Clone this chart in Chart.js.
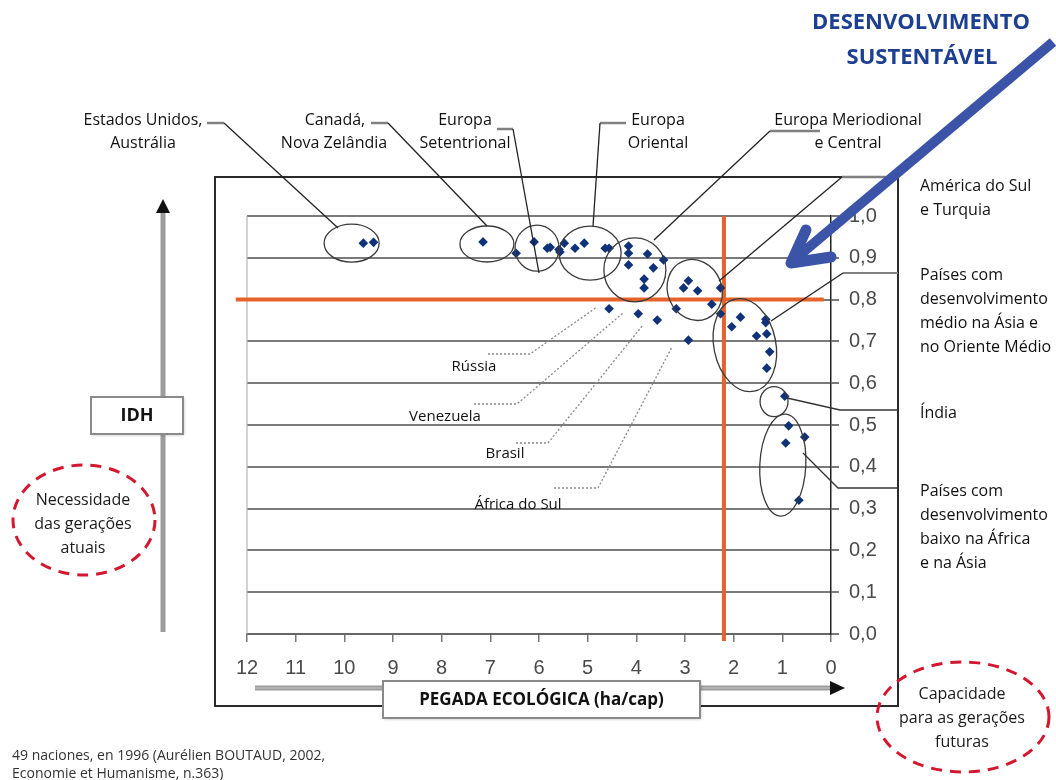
<!DOCTYPE html>
<html>
<head>
<meta charset="utf-8">
<script src="https://cdn.jsdelivr.net/npm/chart.js@4.4.1/dist/chart.umd.min.js"></script>
<style>
html,body{margin:0;padding:0;background:#fff;}
canvas{display:block;}
</style>
</head>
<body>
<canvas id="c" width="1056" height="780"></canvas>
<script>
// ---- DATA ----
// Pegada ecológica (ha/cap) and IDH for each nation, grouped by region
const usAusFootprint   = [9.61, 9.40];
const usAusHdi         = [0.935, 0.937];
const canNzFootprint   = [7.15, 6.47];
const canNzHdi         = [0.938, 0.911];
const northEuFootprint = [6.10, 5.83, 5.77, 5.59, 5.57, 5.48];
const northEuHdi       = [0.938, 0.923, 0.925, 0.920, 0.914, 0.935];
const eastEuFootprint  = [5.26, 5.07, 4.64, 4.56];
const eastEuHdi        = [0.923, 0.935, 0.923, 0.923];
const southEuFootprint = [4.16, 4.16, 4.16, 3.77, 3.44, 3.65, 3.84, 3.84];
const southEuHdi       = [0.928, 0.911, 0.883, 0.909, 0.895, 0.876, 0.849, 0.828];
const latAmFootprint   = [3.03, 2.93, 2.74, 2.27, 2.45, 3.18, 2.27];
const latAmHdi         = [0.828, 0.845, 0.821, 0.828, 0.789, 0.778, 0.766];
const namedFootprint   = [4.56, 3.96, 3.57, 2.93];   // Rússia, Venezuela, Brasil, África do Sul
const namedHdi         = [0.778, 0.766, 0.751, 0.703];
const asiaFootprint    = [2.04, 1.86, 1.34, 1.34, 1.53, 1.32, 1.26, 1.32];
const asiaHdi          = [0.735, 0.758, 0.753, 0.745, 0.713, 0.718, 0.675, 0.636];
const indiaFootprint   = [0.95];
const indiaHdi         = [0.569];
const lowFootprint     = [0.87, 0.54, 0.93, 0.66];
const lowHdi           = [0.498, 0.471, 0.457, 0.320];

const xTickValues = [12, 11, 10, 9, 8, 7, 6, 5, 4, 3, 2, 1, 0];
const yTickValues = [0, 0.1, 0.2, 0.3, 0.4, 0.5, 0.6, 0.7, 0.8, 0.9, 1.0];
const thresholdFootprint = 2.2;
const thresholdHdi = 0.8;

const allFootprint = [].concat(usAusFootprint, canNzFootprint, northEuFootprint, eastEuFootprint,
  southEuFootprint, latAmFootprint, namedFootprint, asiaFootprint, indiaFootprint, lowFootprint);
const allHdi = [].concat(usAusHdi, canNzHdi, northEuHdi, eastEuHdi,
  southEuHdi, latAmHdi, namedHdi, asiaHdi, indiaHdi, lowHdi);
const points = allFootprint.map((x, i) => ({ x: x, y: allHdi[i] }));

// ---- annotation geometry (group ellipses anchored in data units) ----
const groupEllipses = [
  { x: 9.85, y: 0.935, rx: 27.5, ry: 19, rot: 0 },
  { x: 7.07, y: 0.933, rx: 27, ry: 18, rot: 0 },
  { x: 6.04, y: 0.923, rx: 22, ry: 23, rot: 0 },
  { x: 4.95, y: 0.911, rx: 31, ry: 27, rot: 0 },
  { x: 4.03, y: 0.871, rx: 31, ry: 32, rot: 0 },
  { x: 2.80, y: 0.823, rx: 27, ry: 31, rot: -0.4 },
  { x: 1.77, y: 0.691, rx: 31, ry: 47, rot: -0.2 },
  { x: 1.17, y: 0.556, rx: 14, ry: 15, rot: 0 },
  { x: 0.99, y: 0.404, rx: 23, ry: 51, rot: 0.05 }
];

const SANS = '"Open Sans", "Noto Sans", sans-serif';
const ARIAL = '"Liberation Sans", Arial, sans-serif';

function txt(ctx, s, x, y, align, font, color) {
  ctx.save();
  ctx.font = font;
  ctx.fillStyle = color || '#111';
  ctx.textAlign = align || 'left';
  ctx.textBaseline = 'middle';
  ctx.fillText(s, x, y);
  ctx.restore();
}
function line(ctx, pts, color, w, dash) {
  ctx.save();
  ctx.strokeStyle = color; ctx.lineWidth = w;
  if (dash) ctx.setLineDash(dash);
  ctx.beginPath();
  ctx.moveTo(pts[0][0], pts[0][1]);
  for (let i = 1; i < pts.length; i++) ctx.lineTo(pts[i][0], pts[i][1]);
  ctx.stroke();
  ctx.restore();
}
function ellipse(ctx, cx, cy, rx, ry, rot, color, w, dash) {
  ctx.save();
  ctx.strokeStyle = color; ctx.lineWidth = w;
  if (dash) ctx.setLineDash(dash);
  ctx.beginPath();
  ctx.ellipse(cx, cy, rx, ry, rot, 0, Math.PI * 2);
  ctx.stroke();
  ctx.restore();
}
function box(ctx, x, y, w, h) {
  ctx.save();
  ctx.shadowColor = 'rgba(0,0,0,0.25)';
  ctx.shadowBlur = 3; ctx.shadowOffsetX = 1; ctx.shadowOffsetY = 1;
  ctx.fillStyle = '#fff';
  ctx.fillRect(x, y, w, h);
  ctx.restore();
  ctx.save();
  ctx.strokeStyle = '#8a8a8a'; ctx.lineWidth = 2;
  ctx.strokeRect(x, y, w, h);
  ctx.restore();
}

const decor = {
  id: 'decor',
  beforeDatasetsDraw(chart) {
    const ctx = chart.ctx, xs = chart.scales.x, ys = chart.scales.y;
    // plot left border
    line(ctx, [[chart.chartArea.left, ys.getPixelForValue(1)], [chart.chartArea.left, ys.getPixelForValue(0)]], '#b5b5b5', 1.2);
    // orange threshold lines
    const oy = ys.getPixelForValue(thresholdHdi);
    line(ctx, [[xs.getPixelForValue(12.23), oy], [xs.getPixelForValue(0.15), oy]], '#e5622a', 4);
    const ox = xs.getPixelForValue(thresholdFootprint);
    line(ctx, [[ox, ys.getPixelForValue(1)], [ox, ys.getPixelForValue(-0.017)]], '#e5622a', 4);
  },
  afterDatasetsDraw(chart) {
    const ctx = chart.ctx, xs = chart.scales.x, ys = chart.scales.y;
    groupEllipses.forEach(e => {
      ellipse(ctx, xs.getPixelForValue(e.x), ys.getPixelForValue(e.y), e.rx, e.ry, e.rot, '#3a3a3a', 1.3);
    });
  },
  afterDraw(chart) {
    const ctx = chart.ctx;
    // outer frame
    ctx.save();
    ctx.strokeStyle = '#2a2a2a'; ctx.lineWidth = 2;
    ctx.strokeRect(215, 177, 683, 529);
    ctx.restore();

    // x direction arrow (gray) with black head
    line(ctx, [[255, 688], [832, 688]], '#9c9c9c', 5);
    line(ctx, [[255, 688], [832, 688]], '#c8c8c8', 1);
    ctx.save(); ctx.fillStyle = '#111';
    ctx.beginPath(); ctx.moveTo(845, 688); ctx.lineTo(830, 681); ctx.lineTo(830, 695); ctx.closePath(); ctx.fill();
    ctx.restore();
    // y direction arrow
    line(ctx, [[163, 632], [163, 210]], '#9c9c9c', 5);
    ctx.save(); ctx.fillStyle = '#111';
    ctx.beginPath(); ctx.moveTo(163, 199); ctx.lineTo(156, 213); ctx.lineTo(170, 213); ctx.closePath(); ctx.fill();
    ctx.restore();

    // axis title boxes
    box(ctx, 383, 681, 317, 37);
    txt(ctx, 'PEGADA ECOLÓGICA (ha/cap)', 541.5, 700, 'center', 'bold 17px ' + SANS, '#111');
    box(ctx, 91, 397, 92, 37);
    txt(ctx, 'IDH', 137, 416, 'center', 'bold 18px ' + SANS, '#111');

    // red dashed ellipses
    const F3 = '16px ' + SANS;
    ellipse(ctx, 84, 520, 71, 55, 0, '#d3172e', 3, [11, 8]);
    txt(ctx, 'Necessidade', 83, 500, 'center', F3, '#1a1a1a');
    txt(ctx, 'das gerações', 83, 524, 'center', F3, '#1a1a1a');
    txt(ctx, 'atuais', 83, 548, 'center', F3, '#1a1a1a');
    ellipse(ctx, 963, 717, 86, 55, 0, '#d3172e', 3, [11, 8]);
    txt(ctx, 'Capacidade', 962, 694, 'center', F3, '#1a1a1a');
    txt(ctx, 'para as gerações', 962, 718, 'center', F3, '#1a1a1a');
    txt(ctx, 'futuras', 962, 742, 'center', F3, '#1a1a1a');

    // top labels
    const F = '16px ' + SANS;
    txt(ctx, 'Estados Unidos,', 143, 120, 'center', F);
    txt(ctx, 'Austrália', 143, 143, 'center', F);
    txt(ctx, 'Canadá,', 335, 120, 'center', F);
    txt(ctx, 'Nova Zelândia', 334, 143, 'center', F);
    txt(ctx, 'Europa', 465, 120, 'center', F);
    txt(ctx, 'Setentrional', 465, 143, 'center', F);
    txt(ctx, 'Europa', 658, 120, 'center', F);
    txt(ctx, 'Oriental', 658, 143, 'center', F);
    txt(ctx, 'Europa Meriodional', 848, 120, 'center', F);
    txt(ctx, 'e Central', 848, 143, 'center', F);

    // top leader lines
    const G = '#808080', K = '#222';
    line(ctx, [[207, 123], [224, 123]], G, 2.5); line(ctx, [[224, 123], [338, 228]], K, 1.3);
    line(ctx, [[371, 123], [388, 123]], G, 2.5); line(ctx, [[388, 123], [487, 226]], K, 1.3);
    line(ctx, [[497, 129], [513, 129]], G, 2.5); line(ctx, [[513, 129], [539, 273]], K, 1.3);
    line(ctx, [[600, 123], [626, 123]], G, 2.5); line(ctx, [[600, 123], [593, 226]], K, 1.3);
    line(ctx, [[770, 131], [820, 131]], G, 2.5); line(ctx, [[770, 131], [654, 240]], K, 1.3);

    // right leader lines
    line(ctx, [[842, 177], [898, 177]], G, 2.5); line(ctx, [[842, 177], [719, 281]], K, 1.3);
    line(ctx, [[843, 273], [898, 273]], G, 2); line(ctx, [[843, 273], [771, 321]], K, 1.3);
    line(ctx, [[787, 398], [840, 410], [898, 410]], '#333', 1.3);
    line(ctx, [[803, 453], [838, 488], [898, 488]], '#333', 1.3);

    // right labels
    txt(ctx, 'América do Sul', 920, 186, 'left', F);
    txt(ctx, 'e Turquia', 920, 210, 'left', F);
    txt(ctx, 'Países com', 920, 275, 'left', F);
    txt(ctx, 'desenvolvimento', 920, 299, 'left', F);
    txt(ctx, 'médio na Ásia e', 920, 323, 'left', F);
    txt(ctx, 'no Oriente Médio', 920, 347, 'left', F);
    txt(ctx, 'Índia', 920, 413, 'left', F);
    txt(ctx, 'Países com', 920, 491, 'left', F);
    txt(ctx, 'desenvolvimento', 920, 515, 'left', F);
    txt(ctx, 'baixo na África', 920, 539, 'left', F);
    txt(ctx, 'e na Ásia', 920, 563, 'left', F);

    // named countries with dotted leaders
    const D = [2, 2];
    const F2 = '15px ' + SANS;
    line(ctx, [[488, 354], [530, 354], [597, 307]], '#888', 1.3, D);
    txt(ctx, 'Rússia', 474, 367, 'center', F2);
    line(ctx, [[474, 404], [517, 404], [623, 313]], '#888', 1.3, D);
    txt(ctx, 'Venezuela', 445, 417, 'center', F2);
    line(ctx, [[516, 443], [548, 443], [643, 325]], '#888', 1.3, D);
    txt(ctx, 'Brasil', 505, 454, 'center', F2);
    line(ctx, [[554, 488], [598, 488], [672, 347]], '#888', 1.3, D);
    txt(ctx, 'África do Sul', 518, 505, 'center', F2);

    // sustainable development arrow
    line(ctx, [[1053, 42], [795, 259]], '#3b54a8', 10);
    ctx.save();
    ctx.strokeStyle = '#3b54a8'; ctx.lineWidth = 11; ctx.lineJoin = 'round'; ctx.lineCap = 'round';
    ctx.beginPath(); ctx.moveTo(806, 230); ctx.lineTo(791, 263); ctx.lineTo(831, 257); ctx.stroke();
    ctx.restore();
    txt(ctx, 'DESENVOLVIMENTO', 921, 23, 'center', 'bold 22px ' + SANS, '#1d3f92');
    txt(ctx, 'SUSTENTÁVEL', 922, 58, 'center', 'bold 22px ' + SANS, '#1d3f92');

    // source note
    txt(ctx, '49 naciones, en 1996 (Aurélien BOUTAUD, 2002,', 12, 756, 'left', '14px ' + SANS, '#333');
    txt(ctx, 'Economie et Humanisme, n.363)', 12, 774, 'left', '14px ' + SANS, '#333');
  }
};

new Chart(document.getElementById('c'), {
  type: 'scatter',
  data: {
    datasets: [{
      data: points,
      pointStyle: 'rectRot',
      pointRadius: 4.8,
      backgroundColor: '#0f3278',
      borderColor: '#0f3278',
      borderWidth: 0
    }]
  },
  options: {
    responsive: false,
    animation: false,
    events: [],
    layout: { padding: { left: 247, top: 216, right: 0, bottom: 0 } },
    plugins: { legend: { display: false }, tooltip: { enabled: false } },
    scales: {
      x: {
        type: 'linear', reverse: true, min: 0, max: 12,
        afterFit: s => { s.height = 146; },
        afterBuildTicks: s => { s.ticks = xTickValues.map(v => ({ value: v })); },
        ticks: { autoSkip: false, maxRotation: 0, padding: 14, color: '#4a4a4a',
                 font: { family: ARIAL, size: 20 }, callback: v => String(v) },
        grid: { drawOnChartArea: false, drawTicks: true, tickLength: 8, color: '#777', lineWidth: 1.5 },
        border: { display: true, color: '#666', width: 2 }
      },
      y: {
        position: 'right', min: 0, max: 1,
        afterFit: s => { s.width = 225; },
        afterBuildTicks: s => { s.ticks = yTickValues.map(v => ({ value: v })); },
        ticks: { autoSkip: false, padding: 10, color: '#4a4a4a',
                 font: { family: ARIAL, size: 20 },
                 callback: v => v.toFixed(1).replace('.', ',') },
        grid: { drawOnChartArea: true, drawTicks: true, tickLength: 8, color: '#7a7a7a', lineWidth: 2 },
        border: { display: true, color: '#222', width: 1.5 }
      }
    }
  },
  plugins: [decor]
});
</script>
</body>
</html>
